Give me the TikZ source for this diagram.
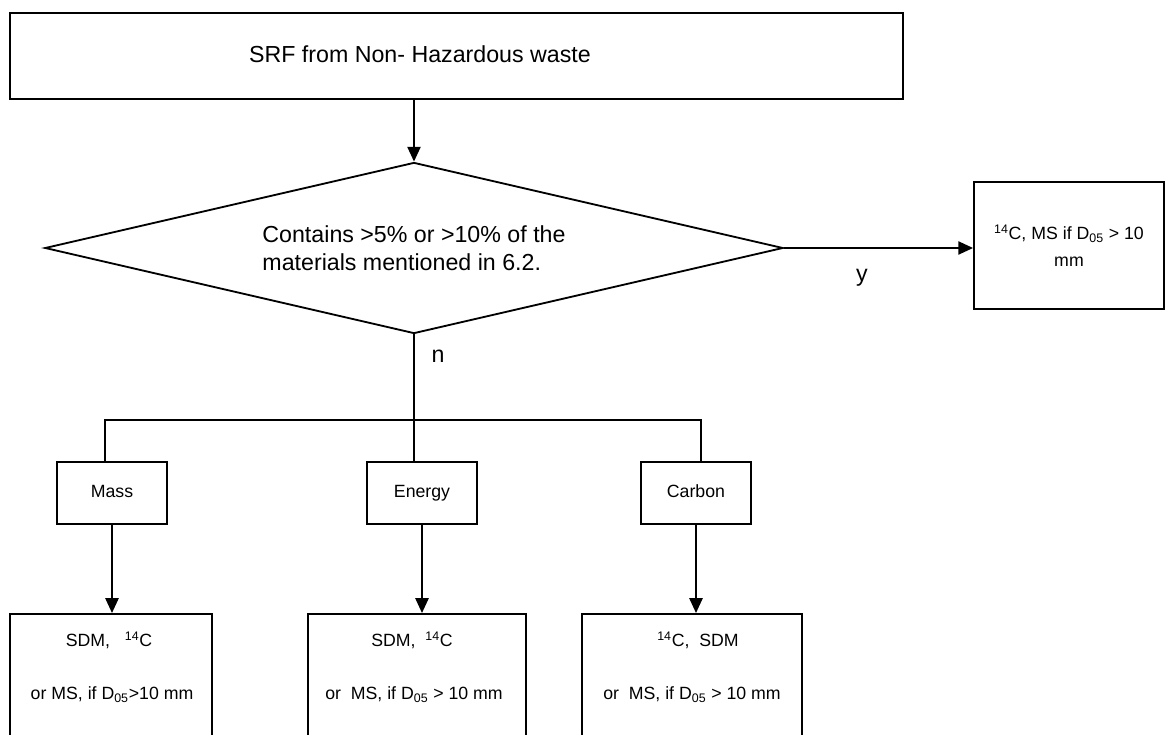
\documentclass[tikz,border=0pt]{standalone}
\usepackage{fontspec}
\setmainfont{Liberation Sans}
\usepackage{tikz}
\usetikzlibrary{shapes.geometric}
\usetikzlibrary{arrows.meta}

\begin{document}
\begin{tikzpicture}[x=0.025cm, y=-0.025cm, line width=1.3pt]

			\tikzstyle{box} = [draw, inner sep=0pt]
			\tikzstyle{big} = [font=\fontsize{16.5}{19.9}\selectfont]
			\tikzstyle{small} = [font=\fontsize{12.6}{19.2}\selectfont]
			\tikzstyle{choice} = [box, small, minimum width=2.75cm, minimum height=1.55cm, text height=1.6ex, text depth=0.4ex]
			\tikzstyle{arr} = [-{Triangle[length=0.37cm, width=0.33cm]}]

			\useasboundingbox (0,0) rectangle (1166,735);
			\clip (0,0) rectangle (1166,735);

			% input
			\node[box, minimum width=22.325cm, minimum height=2.15cm] (srf) at (456.5,56) {};
			\node[big] (srftext) at (420,54) {SRF from Non- Hazardous waste};

			% decision
			\node[box, diamond, aspect=4.3, minimum width=18.45cm, minimum height=4.275cm, big, align=left] (dec) at (414,248)
				{Contains >5\% or >10\% of the\\materials mentioned in 6.2.};
			\draw[arr] (srf.south -| dec.north) -- (dec.north);

			% yes branch
			\node[box, small, align=center, minimum width=4.75cm, minimum height=3.175cm] (yes) at (1069,245.5)
				{\textsuperscript{14}C, MS if D\textsubscript{05} > 10\\mm};
			\draw[arr] (dec.east) -- (dec.east -| yes.west);
			\node[big] (ylab) at (862,278) {y};

			% no branch
			\node[big] (nlab) at (438,356) {n};
			\node[choice] (mass) at (112,493) {Mass};
			\node[choice] (energy) at (422,493) {Energy};
			\node[choice] (carbon) at (696,493) {Carbon};

			\coordinate (busL) at (105,420);
			\coordinate (busR) at (701,420);
			\draw (dec.south) -- (dec.south |- energy.north);
			\draw (busL |- mass.north) -- (busL) -- (busR) -- (busR |- carbon.north);

			% results
			\node[box, anchor=north, minimum width=5.05cm, minimum height=3.75cm] (mres) at (111,613) {};
			\node[box, anchor=north, minimum width=5.45cm, minimum height=3.75cm] (eres) at (417,613) {};
			\node[box, anchor=north, minimum width=5.5cm, minimum height=3.75cm] (cres) at (692,613) {};

			\draw[arr] (mass.south) -- (mass.south |- mres.north);
			\draw[arr] (energy.south) -- (energy.south |- eres.north);
			\draw[arr] (carbon.south) -- (carbon.south |- cres.north);

			\node[small] (mres1) at (109,640) {SDM,\ \ \ \textsuperscript{14}C};
			\node[small] (mres2) at (112,695) {or MS, if D\textsubscript{05}>10 mm};
			\node[small] (eres1) at (412,640) {SDM,\ \ \textsuperscript{14}C};
			\node[small] (eres2) at (414,695) {or\ \ MS, if D\textsubscript{05} > 10 mm};
			\node[small] (cres1) at (698,640) {\textsuperscript{14}C,\ \ SDM};
			\node[small] (cres2) at (692,695) {or\ \ MS, if D\textsubscript{05} > 10 mm};

		\end{tikzpicture}
\end{document}
